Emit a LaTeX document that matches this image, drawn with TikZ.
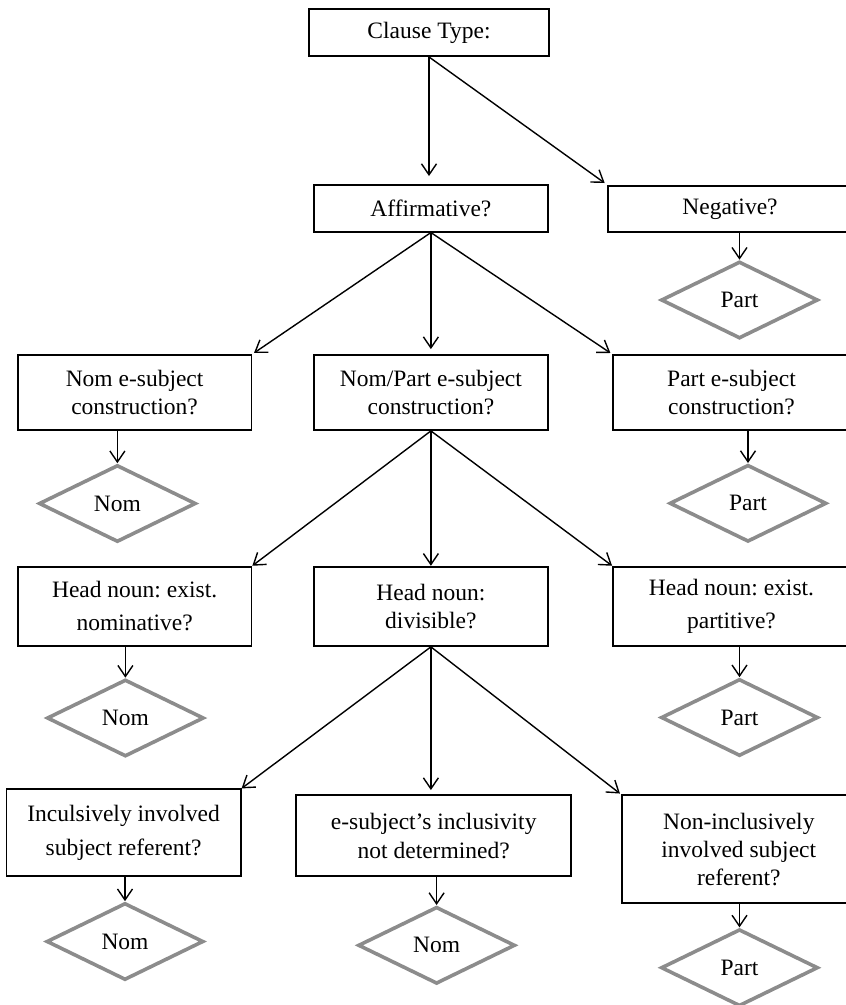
\documentclass[tikz,border=0pt]{standalone}
\usepackage{fontspec}
\setmainfont{Liberation Serif}
\usetikzlibrary{shapes.geometric,arrows.meta}
\definecolor{diagray}{RGB}{140,140,140}
\frenchspacing
\tikzset{
  box/.style={draw=black, line width=1.8pt, rectangle, align=center, inner sep=0pt,
    font=\fontsize{23.5}{28}\selectfont},
  dia/.style={draw=diagray, line width=3.6pt, diamond, inner sep=0pt,
    minimum width=157, minimum height=77, font=\fontsize{23.5}{28}\selectfont},
  arr/.style={-{Straight Barb[length=11pt,width=15pt]}, line width=1.4pt},
}
\begin{document}
\begin{tikzpicture}[x=1pt,y=-1pt]
\useasboundingbox (0,0) rectangle (846,1005);
% boxes
\node[box, minimum width=240, minimum height=46.7] (ct) at (429,32.7) {Clause Type:};
\node[box, minimum width=233.8, minimum height=46.7] (aff) at (430.9,208.3) {Affirmative?};
\node[box, minimum width=244, minimum height=46.3] (neg) at (730,208.8) {Negative?};
\node[box, minimum width=233.7, minimum height=75] (nome) at (134.6,392.5) {Nom e-subject\\construction?};
\node[box, minimum width=233.8, minimum height=75] (nompart) at (430.9,392.5) {Nom/Part e-subject\\construction?};
\node[box, minimum width=237, minimum height=75] (parte) at (731.5,392.5) {Part e-subject\\construction?};
\node[box, minimum width=233.7, minimum height=79.3, font=\fontsize{23.5}{33}\selectfont] (hn1) at (134.6,606.3) {Head noun: exist.\\nominative?};
\node[box, minimum width=233.8, minimum height=79.3] (hn2) at (430.9,606.3) {Head noun:\\divisible?};
\node[box, minimum width=237, minimum height=79.3, font=\fontsize{23.5}{33}\selectfont] (hn3) at (731.5,606.3) {Head noun: exist.\\partitive?};
\node[box, minimum width=234.2, minimum height=87, font=\fontsize{23.5}{34}\selectfont] (b1) at (123.6,832.8) {Inculsively involved\\subject referent?};
\node[box, minimum width=274.7, minimum height=81.3, font=\fontsize{23.5}{29}\selectfont] (b2) at (433.7,835.6) {e-subject’s inclusivity\\not determined?};
\node[box, minimum width=234.3, minimum height=108.3] (b3) at (738.8,849.2) {Non-inclusively\\involved subject\\referent?};
% diamonds
\node[dia] (d0) at (739.5,300) {Part};
\node[dia] (d1) at (117.4,503.5) {Nom};
\node[dia] (dp) at (748,503.3) {Part};
\node[dia] (d2) at (125.4,718) {Nom};
\node[dia] (d3) at (739.5,717.5) {Part};
\node[dia] (d4) at (125,941.5) {Nom};
\node[dia] (d5) at (436.6,945.3) {Nom};
\node[dia] (d6) at (739.5,967.7) {Part};
% connectors
\draw[arr, shorten >=8] (ct.south) -- (ct.south |- aff.north);
\draw[arr, shorten >=3] (ct.south) -- (neg.north west);
\draw[arr] (d0.north |- neg.south) -- (d0.north);
\draw[arr, shorten >=2] (aff.south) -- (nome.north east);
\draw[arr, shorten >=5] (aff.south) -- (nompart.north);
\draw[arr, shorten >=2] (aff.south) -- (parte.north west);
\draw[arr] (d1.north |- nome.south) -- (d1.north);
\draw[arr] (dp.north |- parte.south) -- (dp.north);
\draw[arr] (nompart.south) -- (hn1.north east);
\draw[arr] (nompart.south) -- (hn2.north);
\draw[arr] (nompart.south) -- (hn3.north west);
\draw[arr] (d2.north |- hn1.south) -- (d2.north);
\draw[arr] (d3.north |- hn3.south) -- (d3.north);
\draw[arr] (hn2.south) -- (b1.north east);
\draw[arr, shorten >=4] (hn2.south) -- (hn2.south |- b2.north);
\draw[arr, shorten >=1] (hn2.south) -- (b3.north west);
\draw[arr] (d4.north |- b1.south) -- (d4.north);
\draw[arr] (d5.north |- b2.south) -- (d5.north);
\draw[arr] (d6.north |- b3.south) -- (d6.north);
\end{tikzpicture}
\end{document}
